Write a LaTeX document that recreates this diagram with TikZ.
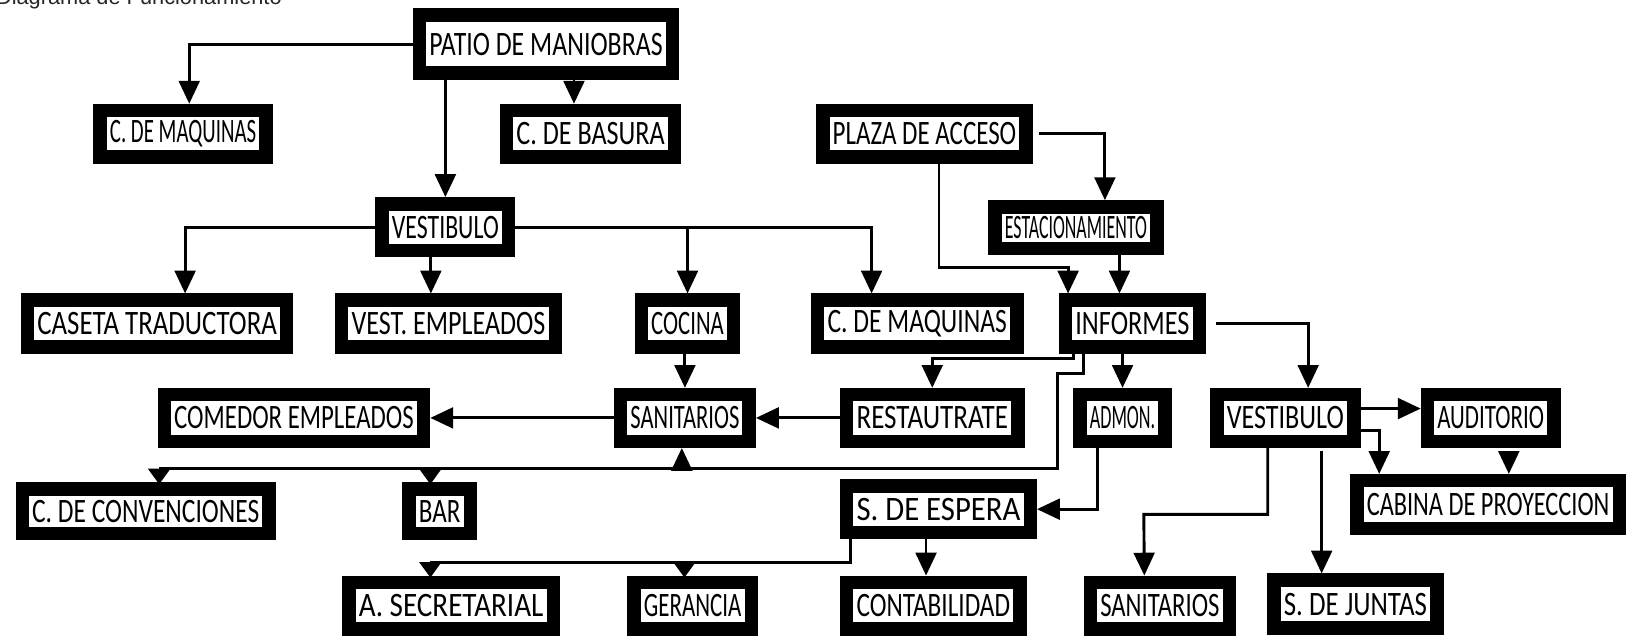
\documentclass[tikz,border=0pt]{standalone}
\usepackage{fontspec}
\usepackage{graphicx}
\setmainfont{Carlito}
\newfontfamily\titlefont{Liberation Sans}
\usetikzlibrary{arrows.meta}
\newcommand\bx[6]{%
  \node[box, minimum width={(#4-#2-13)*1pt}, minimum height={(#5-#3-13)*1pt}] (#1)
    at ({(#2+#4)/2},{(#3+#5)/2}) {\resizebox{\dimexpr #4pt-#2pt-32pt\relax}{\height}{#6}};}
\begin{document}
\begin{tikzpicture}[x=1pt,y=-1pt,
  box/.style={draw=black, fill=white, line width=13pt, inner sep=0pt,
    font=\fontsize{33}{33}\selectfont},
  conn/.style={line width=2.8pt},
  arr/.style={conn, -{Triangle[length=22pt,width=20pt]}},
  arrs/.style={conn, -{Triangle[length=15pt,width=21pt]}},
]
\useasboundingbox (0,0) rectangle (1568,614);

\node[anchor=base west, inner sep=0, text=black!85,
  font=\titlefont\fontsize{21}{21}\selectfont] (title) at (-4,4) {Diagrama de Funcionamiento};

\bx{patio}{398}{8}{655}{77}{PATIO DE MANIOBRAS}
\bx{cmaqA}{90}{100}{263}{158}{C. DE MAQUINAS}
\bx{basura}{482}{100}{657}{158}{C. DE BASURA}
\bx{plaza}{787}{100}{996}{158}{PLAZA DE ACCESO}
\bx{vestA}{362}{190}{497}{248}{VESTIBULO}
\bx{estac}{953}{193}{1122}{246}{ESTACIONAMIENTO}
\bx{caseta}{20}{283}{283}{341}{CASETA TRADUCTORA}
\bx{vemp}{323}{283}{542}{341}{VEST. EMPLEADOS}
\bx{cocina}{612}{283}{714}{341}{COCINA}
\bx{cmaqB}{782}{283}{987}{341}{C. DE MAQUINAS}
\bx{informes}{1021}{283}{1163}{341}{INFORMES}
\bx{comedor}{152}{374}{415}{432}{COMEDOR EMPLEADOS}
\bx{sanA}{592}{374}{729}{432}{SANITARIOS}
\bx{rest}{810}{374}{988}{432}{RESTAUTRATE}
\bx{admon}{1035}{374}{1130}{432}{ADMON.}
\bx{vestB}{1167}{374}{1312}{432}{VESTIBULO}
\bx{audit}{1370}{374}{1505}{432}{AUDITORIO}
\bx{conv}{15}{465}{266}{521}{C. DE CONVENCIONES}
\bx{bar}{388}{465}{460}{521}{BAR}
\bx{espera}{810}{462}{1000}{520}{S. DE ESPERA}
\bx{cabina}{1302}{457}{1568}{516}{CABINA DE PROYECCION}
\bx{secre}{330}{555}{540}{613}{A. SECRETARIAL}
\bx{geren}{605}{555}{731}{613}{GERANCIA}
\bx{conta}{810}{555}{990}{613}{CONTABILIDAD}
\bx{sanB}{1045}{555}{1192}{613}{SANITARIOS}
\bx{juntas}{1222}{553}{1392}{612}{S. DE JUNTAS}

% patio
\draw[arr] (patio.west) -| ([xshift=6pt]cmaqA.north);
\coordinate (bT) at ([xshift=-16pt]basura.north);
\draw[arr] (bT |- patio.south) -- (bT);
\draw[arr] (vestA.north |- patio.south) -- (vestA.north);

% vestibulo A
\coordinate (caT) at ([xshift=27pt]caseta.north);
\draw[arr] (vestA.west) -| (caT);
\coordinate (veT) at ([xshift=-17pt]vemp.north);
\draw[arr] (veT |- vestA.south) -- (veT);
\coordinate (cmT) at ([xshift=-44pt]cmaqB.north);
\draw[arr] (vestA.east) -| (cmT);
\draw[arr] (vestA.east -| cocina.north) -- (cocina.north);

\draw[arr] (sanA.north |- cocina.south) -- (sanA.north);
\draw[arr] (rest.west) -- (sanA.east);
\draw[arr] (sanA.west) -- (comedor.east);

% plaza
\coordinate (esT) at ([xshift=28pt]estac.north);
\draw[arr] ([xshift=6pt]plaza.east) -| (esT);
\coordinate (plB) at ([xshift=14pt]plaza.south);
\coordinate (inT) at ([xshift=-62pt]informes.north);
\coordinate (k1) at (1030,258);
\draw[arr] (plB) |- (k1) -- (inT);
\coordinate (esB) at ([xshift=42pt]estac.south);
\draw[arr] (esB) -- (esB |- informes.north);

% informes
\coordinate (inB1) at ([xshift=-57pt]informes.south);
\coordinate (k2) at (899,346);
\draw[arr] (inB1) |- (k2) -- (rest.north);
\coordinate (inB2) at ([xshift=-47pt]informes.south);
\coordinate (k3) at (1020,360);
\coordinate (k4) at (153,452);
\draw[conn] (inB2) |- (k3) |- (k4);
\coordinate (cvT) at ([xshift=13pt,yshift=-2pt]conv.north);
\draw[arrs] (cvT |- k4) -- (cvT);
\coordinate (brT) at ([xshift=-9pt,yshift=-2pt]bar.north);
\draw[arrs] (brT |- k4) -- (brT);
\coordinate (saB) at ([xshift=-3pt]sanA.south);
\draw[arr] (saB |- k4) -- (saB);
\draw[arr] (admon.north |- informes.south) -- (admon.north);
\coordinate (inE) at ([xshift=10pt]informes.east);
\coordinate (vbT) at ([xshift=22pt]vestB.north);
\draw[arr] (inE) -| (vbT);

% admon
\coordinate (adB) at ([xshift=-24pt]admon.south);
\draw[arr] (adB) |- (espera.east);

% vestibulo B
\coordinate (vbE1) at ([yshift=9pt]vestB.east);
\draw[arr] (vbE1) -- (vbE1 -| audit.west);
\coordinate (vbE2) at ([yshift=-12pt]vestB.east);
\coordinate (cbT1) at ([xshift=-105pt]cabina.north);
\draw[arr] (vbE2) -| (cbT1);
\coordinate (cbT2) at ([xshift=20pt]cabina.north);
\coordinate (auB) at ([yshift=-4pt]audit.south);
\draw[arr] (cbT2 |- auB) -- (cbT2);
\coordinate (vbB1) at ([xshift=-17pt]vestB.south);
\coordinate (sbT) at ([xshift=-15pt]sanB.north);
\coordinate (k5) at (1103,496);
\draw[arr] (vbB1) |- (k5) -- (sbT);
\coordinate (vbB2) at ([xshift=35pt,yshift=-3pt]vestB.south);
\draw[arr] (vbB2) -- (vbB2 |- juntas.north);

% espera
\coordinate (ctT) at ([xshift=-7pt]conta.north);
\draw[arr] (ctT |- espera.south) -- (ctT);
\coordinate (epB) at ([xshift=10pt]espera.south west);
\coordinate (k6) at (415,542);
\draw[conn] (epB) |- (k6);
\coordinate (scT) at ([xshift=-20pt,yshift=-2pt]secre.north);
\draw[arrs] (scT |- k6) -- (scT);
\coordinate (grT) at ([xshift=-8pt,yshift=-2pt]geren.north);
\draw[arrs] (grT |- k6) -- (grT);
\end{tikzpicture}
\end{document}
